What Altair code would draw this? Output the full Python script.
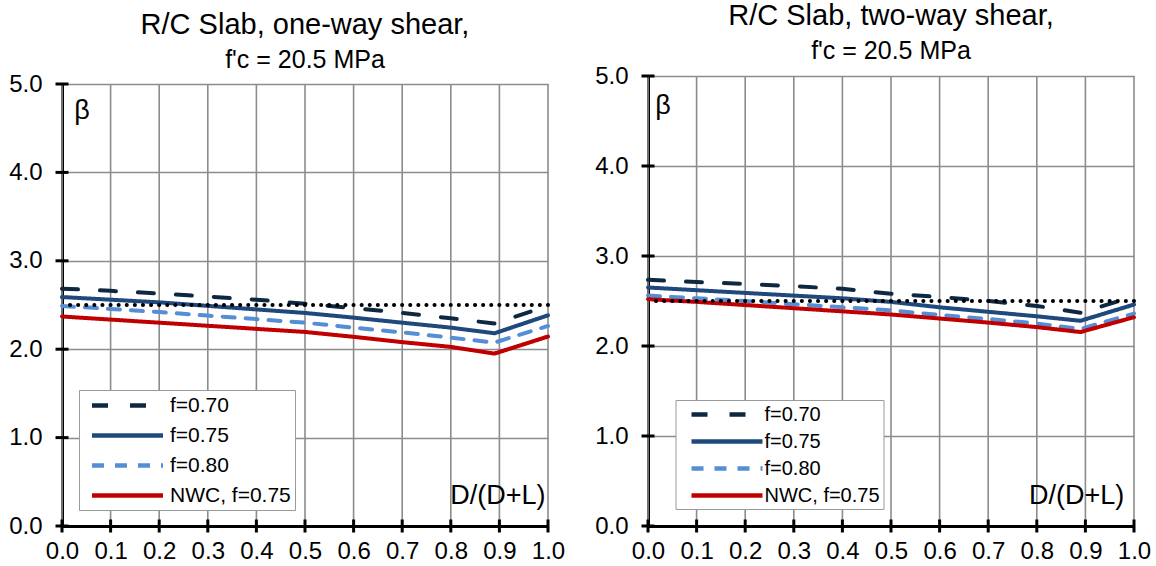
import altair as alt
import pandas as pd

# ---------------- data ----------------
x_vals = [0.0, 0.1, 0.2, 0.3, 0.4, 0.5, 0.6, 0.7, 0.8, 0.89, 1.0]
series_names = ["f=0.70", "f=0.75", "f=0.80", "NWC, f=0.75"]

one_f070 = [2.685, 2.66, 2.63, 2.595, 2.56, 2.515, 2.465, 2.41, 2.35, 2.29, 2.49]
one_f075 = [2.59, 2.56, 2.53, 2.49, 2.45, 2.41, 2.357, 2.30, 2.244, 2.18, 2.383]
one_f080 = [2.49, 2.455, 2.42, 2.38, 2.34, 2.30, 2.244, 2.19, 2.13, 2.075, 2.263]
one_nwc = [2.37, 2.335, 2.30, 2.265, 2.23, 2.195, 2.14, 2.08, 2.026, 1.95, 2.143]

two_f070 = [2.735, 2.71, 2.69, 2.665, 2.635, 2.58, 2.545, 2.50, 2.445, 2.37, 2.55]
two_f075 = [2.65, 2.62, 2.59, 2.56, 2.53, 2.49, 2.43, 2.38, 2.33, 2.28, 2.46]
two_f080 = [2.56, 2.53, 2.50, 2.465, 2.43, 2.395, 2.345, 2.30, 2.25, 2.19, 2.36]
two_nwc = [2.52, 2.49, 2.455, 2.42, 2.385, 2.35, 2.305, 2.26, 2.21, 2.155, 2.32]

target_beta = [2.5]
x_ticks = [0.0, 0.1, 0.2, 0.3, 0.4, 0.5, 0.6, 0.7, 0.8, 0.9, 1.0]
y_ticks = [0.0, 1.0, 2.0, 3.0, 4.0, 5.0]
y_min, y_max = 0.0, 5.0

title_one = "R/C Slab, one-way shear,"
title_two = "R/C Slab, two-way shear,"
subtitle = "f'c = 20.5 MPa"
beta_label = "β"
x_label = "D/(D+L)"

# ---------------- styles ----------------
FONT = "Liberation Sans"
GRID = "#8c8c8c"
colors = ["#0e2841", "#1f497d", "#558ed5", "#c00000"]
dashes = [[16, 22], [1, 0], [12, 11], [1, 0]]
LEG_PATH = "M-4,0H4"      # long stroke symbol, 4 x sqrt(size) pixels
LEG_SIZE = 315


def make_panel(title, series_vals, yrange, title_offset, leg, beta_pos, xl_pos):
    rows = []
    for name, ys in zip(series_names, series_vals):
        for xv, yv in zip(x_vals, ys):
            rows.append({"x": xv, "beta": yv, "series": name})
    df = pd.DataFrame(rows)

    xenc = alt.X(
        "x:Q",
        scale=alt.Scale(domain=[0, 1], nice=False),
        axis=alt.Axis(
            values=x_ticks, format=".1f", title=None, grid=False,
            domainColor="black", domainWidth=3, ticks=False,
            tickSize=0, labelPadding=13, labelFontSize=24, labelFont=FONT,
            labelColor="black", labelFlush=False,
        ),
    )
    yenc = alt.Y(
        "beta:Q",
        scale=alt.Scale(domain=[y_min, y_max], nice=False, range=yrange),
        axis=alt.Axis(
            values=y_ticks, format=".1f", title=None, grid=True, gridColor=GRID,
            gridWidth=1.6, domainColor="black", domainWidth=3, ticks=False,
            tickSize=0, labelPadding=20, labelFontSize=24, labelFont=FONT,
            labelColor="black", labelFlush=False,
        ),
    )

    legend = alt.Legend(
        title=None, orient="none", legendX=leg["x"], legendY=leg["y"],
        symbolType=LEG_PATH, symbolSize=LEG_SIZE, symbolStrokeWidth=4.5,
        symbolOffset=leg["soff"], labelOffset=leg["loff"],
        labelFontSize=leg["fs"], labelFont=FONT, labelColor="black",
        padding=leg["pad"], rowPadding=leg["rowpad"],
        strokeColor="#9a9a9a", fillColor="white",
    )

    vgrid = alt.Chart(pd.DataFrame({
        "x": x_ticks, "beta": [y_min] * len(x_ticks), "beta2": [y_max] * len(x_ticks)
    })).mark_rule(color=GRID, strokeWidth=1.6).encode(x=xenc, y=yenc, y2="beta2:Q")

    lines = alt.Chart(df).mark_line(
        strokeWidth=4, strokeCap="round", strokeJoin="round"
    ).encode(
        x=xenc,
        y=yenc,
        color=alt.Color("series:N", scale=alt.Scale(domain=series_names, range=colors), legend=legend),
        strokeDash=alt.StrokeDash("series:N", scale=alt.Scale(domain=series_names, range=dashes), legend=legend),
    )

    target = alt.Chart(pd.DataFrame({"beta": target_beta})).mark_rule(
        color="black", strokeWidth=4, strokeDash=[0.1, 8], strokeCap="round"
    ).encode(y=yenc)

    xt = alt.Chart(pd.DataFrame({"x": x_ticks, "beta": [y_min] * len(x_ticks)})).mark_tick(
        orient="vertical", size=13, thickness=3, color="black", opacity=1
    ).encode(x=xenc, y=yenc)
    yt = alt.Chart(pd.DataFrame({"x": [0.0] * len(y_ticks), "beta": y_ticks})).mark_tick(
        orient="horizontal", size=13, thickness=3, color="black", opacity=1
    ).encode(x=xenc, y=yenc)

    beta_txt = alt.Chart(pd.DataFrame({"x": [beta_pos[0]], "beta": [beta_pos[1]], "t": [beta_label]})).mark_text(
        align="left", baseline="middle", fontSize=27, font=FONT, color="black"
    ).encode(x=xenc, y=yenc, text="t:N")
    xl_txt = alt.Chart(pd.DataFrame({"x": [xl_pos[0]], "beta": [xl_pos[1]], "t": [x_label]})).mark_text(
        align="right", baseline="middle", fontSize=27, font=FONT, color="black"
    ).encode(x=xenc, y=yenc, text="t:N")

    return alt.layer(vgrid, lines, target, xt, yt, beta_txt, xl_txt).properties(
        width=486,
        height=450,
        title=alt.TitleParams(
            text=title, subtitle=subtitle, fontSize=29, subtitleFontSize=25,
            font=FONT, subtitleFont=FONT, fontWeight="normal", subtitleFontWeight="normal",
            color="black", subtitleColor="black", subtitlePadding=8,
            offset=title_offset, anchor="middle", frame="group",
        ),
    )


left = make_panel(
    title_one, [one_f070, one_f075, one_f080, one_nwc], [450, 8], -1,
    {"x": 17, "y": 314, "fs": 21, "pad": 4, "rowpad": 8, "soff": 33, "loff": 31},
    (0.025, 4.69), (0.995, 0.34),
)
right = make_panel(
    title_two, [two_f070, two_f075, two_f080, two_nwc], [450, 0], 0,
    {"x": 27.5, "y": 324, "fs": 20, "pad": 3, "rowpad": 5, "soff": 37, "loff": 26},
    (0.015, 4.67), (0.98, 0.33),
)

chart = alt.hconcat(left, right, spacing=29).resolve_scale(
    color="independent", strokeDash="independent"
).resolve_legend(
    color="independent", strokeDash="independent"
).properties(
    padding={"left": 8, "top": 2, "right": 0, "bottom": 0},
    background="white",
).configure_view(stroke=None)

chart.save("out.html", embed_options={"renderer": "svg", "actions": False})
